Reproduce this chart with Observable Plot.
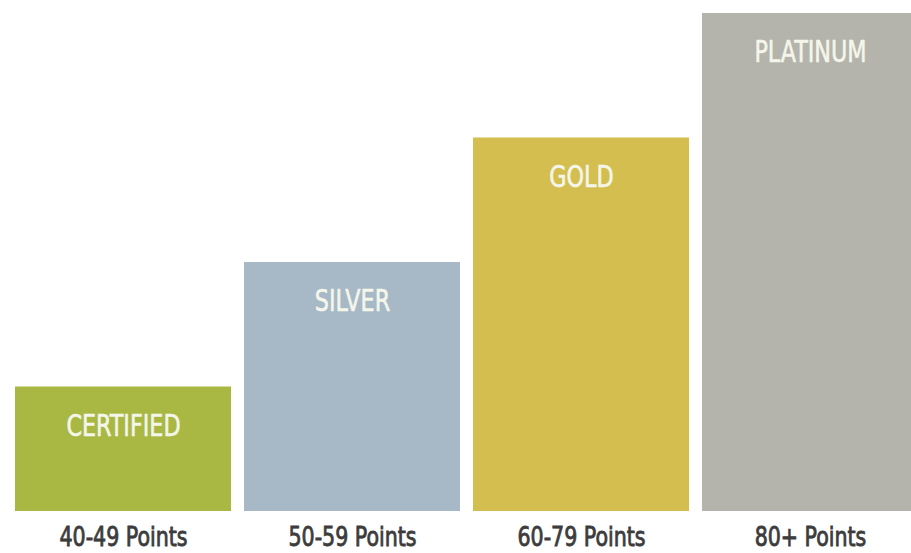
<!DOCTYPE html>
<html>
<head>
<meta charset="utf-8">
<script src="https://cdn.jsdelivr.net/npm/d3@7"></script>
<script src="https://cdn.jsdelivr.net/npm/@observablehq/plot@0.6"></script>
<style>
  html, body { margin: 0; padding: 0; background: #fff; }
  #chart svg { display: block; }
  .range-label text { stroke: #3c3c3c; stroke-width: 0.8px; }
</style>
</head>
<body>
<div id="chart"></div>
<script>
const ranges = ["40-49 Points", "50-59 Points", "60-79 Points", "80+ Points"];
const tiers = ["CERTIFIED", "SILVER", "GOLD", "PLATINUM"];
const levels = [1, 2, 3, 4];
const colors = ["#a9b843", "#a7b8c7", "#d4be4f", "#b4b3ac"];

const data = ranges.map((r, i) => ({range: r, tier: tiers[i], level: levels[i]}));
const font = "'DejaVu Sans Condensed', 'Liberation Sans Narrow', sans-serif";

const chart = Plot.plot({
  width: 911,
  height: 553,
  marginTop: 0,
  marginBottom: 42,
  marginLeft: 0,
  marginRight: 0,
  style: {background: "#fff"},
  x: {domain: ranges, range: [13, 920], paddingInner: 0.0565, paddingOuter: 0, label: null},
  y: {domain: [0, 4], range: [511, 13], axis: null},
  color: {domain: tiers, range: colors},
  marks: [
    Plot.barY(data, {x: "range", y: "level", fill: "tier"}),
    Plot.text(data, {
      x: "range", y: "level", text: "tier", dy: 39,
      fill: "#f4f6ea", stroke: "#f4f6ea", strokeWidth: 0.6,
      fontSize: 31, fontFamily: font,
      className: "tier-label"
    }),
    Plot.axisX({
      tickSize: 0, tickPadding: 16, fontSize: 26, label: null,
      fill: "#3c3c3c", fontFamily: font,
      className: "range-label"
    })
  ]
});
document.getElementById("chart").append(chart);

// horizontally condense the text to match the narrow typeface of the original
chart.querySelectorAll(".tier-label text").forEach(t => {
  t.setAttribute("transform", (t.getAttribute("transform") || "") + " scale(0.8,1)");
});
chart.querySelectorAll(".range-label text").forEach(t => {
  t.setAttribute("transform", (t.getAttribute("transform") || "") + " scale(0.88,1)");
});
</script>
</body>
</html>
